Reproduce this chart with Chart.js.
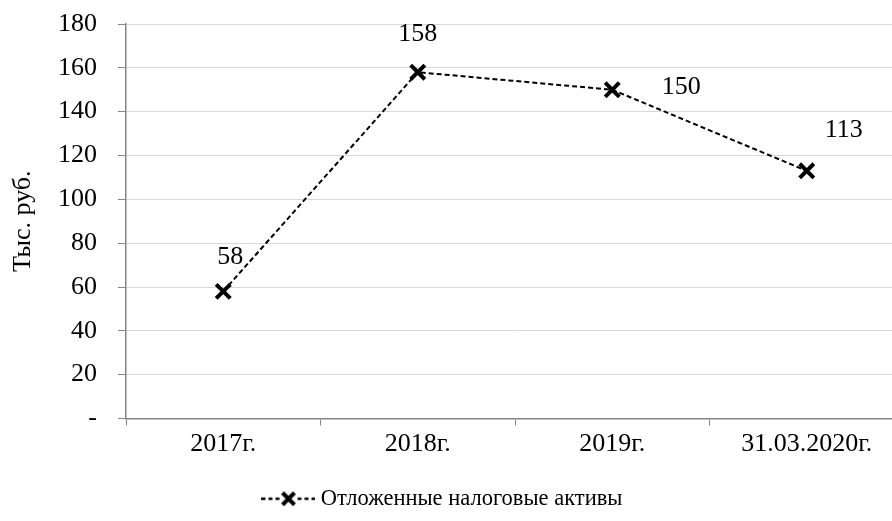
<!DOCTYPE html>
<html>
<head>
<meta charset="utf-8">
<script src="https://cdn.jsdelivr.net/npm/chart.js@4.4.0/dist/chart.umd.min.js"></script>
<style>
  html, body { margin: 0; padding: 0; background: #fff; overflow: hidden; }
  #wrap { width: 918px; height: 521px; }
</style>
</head>
<body>
<div id="wrap"><canvas id="chart"></canvas></div>
<script>
const categories = ["2017г.", "2018г.", "2019г.", "31.03.2020г."];
const assets = [58, 158, 150, 113];
const seriesName = "Отложенные налоговые активы";
const yTicks = [0, 20, 40, 60, 80, 100, 120, 140, 160, 180];

// where Excel put the value labels, relative to the point
const labelOffsets = [[7, -34], [0, -38], [69, -3], [37, -41]];

const FONT = "'Liberation Serif', 'Times New Roman', serif";

// legend symbol: ---x--- like the Excel legend key
function legendSymbol() {
  const c = document.createElement("canvas");
  c.width = 54; c.height = 20;
  const g = c.getContext("2d");
  g.strokeStyle = "#000";
  g.lineWidth = 2.5;
  g.beginPath();
  [0, 7, 14, 36, 43, 50].forEach(x => { g.moveTo(x, 10); g.lineTo(x + 4, 10); });
  g.stroke();
  g.lineWidth = 4;
  g.beginPath();
  g.moveTo(21, 4); g.lineTo(33, 16);
  g.moveTo(33, 4); g.lineTo(21, 16);
  g.stroke();
  return c;
}

const valueLabels = {
  id: "valueLabels",
  afterDatasetsDraw(chart) {
    const ctx = chart.ctx;
    const meta = chart.getDatasetMeta(0);
    ctx.save();
    ctx.font = "26px " + FONT;
    ctx.fillStyle = "#000";
    ctx.textAlign = "center";
    ctx.textBaseline = "middle";
    meta.data.forEach((pt, i) => {
      ctx.fillText(String(assets[i]), pt.x + labelOffsets[i][0], pt.y + labelOffsets[i][1]);
    });
    ctx.restore();
  }
};

new Chart(document.getElementById("chart"), {
  type: "line",
  data: {
    labels: categories,
    datasets: [{
      label: seriesName,
      data: assets,
      borderColor: "#000",
      borderWidth: 2,
      borderDash: [5, 3],
      fill: false,
      tension: 0,
      pointStyle: "crossRot",
      pointRadius: 10,
      pointHoverRadius: 10,
      pointBorderWidth: 4,
      pointBorderColor: "#000",
      pointBackgroundColor: "#000"
    }]
  },
  options: {
    responsive: true,
    maintainAspectRatio: false,
    animation: false,
    layout: { padding: { top: 24, right: 0, left: 0, bottom: 1 } },
    plugins: {
      tooltip: { enabled: false },
      legend: {
        position: "bottom",
        labels: {
          usePointStyle: true,
          pointStyleWidth: 42,
          color: "#000",
          font: { family: FONT, size: 22.5 },
          padding: 10,
          generateLabels() {
            // trailing spaces nudge the centred legend left, as in the original
            return [{ text: seriesName + "\u00a0\u00a0\u00a0\u00a0\u00a0", pointStyle: legendSymbol(), fontColor: "#000", lineWidth: 0, strokeStyle: "transparent", fillStyle: "transparent" }];
          }
        }
      }
    },
    scales: {
      x: {
        offset: true,
        grid: { display: true, drawOnChartArea: false, drawTicks: true, tickLength: 7, offset: true, color: "#868686" },
        border: { color: "#868686", width: 1.5 },
        ticks: { color: "#000", font: { family: FONT, size: 26 }, padding: 3 },
        afterFit(scale) { scale.height = 59; }
      },
      y: {
        min: 0,
        max: 180,
        afterBuildTicks(scale) { scale.ticks = yTicks.map(v => ({ value: v })); },
        grid: { color: "#d9d9d9", tickLength: 8, tickColor: "#868686" },
        border: { color: "#868686", width: 1.5 },
        ticks: {
          color: "#000",
          font: { family: FONT, size: 26 },
          padding: 21,
          callback: v => v === 0 ? "-" : v
        },
        title: { display: true, text: "Тыс. руб.", color: "#000", font: { family: FONT, size: 26 }, padding: { top: 8, bottom: 16 } },
        afterFit(scale) {
          scale.width = 126;
          // tick padding would otherwise push the plot top down
          scale.paddingTop = 0;
          scale.paddingBottom = 0;
        }
      }
    }
  },
  plugins: [valueLabels]
});
</script>
</body>
</html>
